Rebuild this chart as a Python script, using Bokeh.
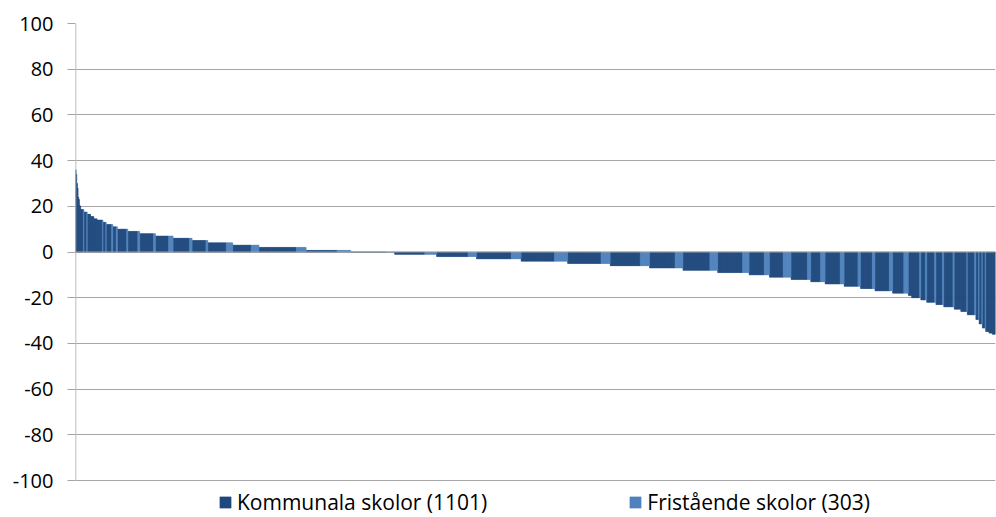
from bokeh.plotting import figure
from bokeh.models import Range1d, FixedTicker, Legend, LegendItem, ColumnDataSource, Span
from bokeh.embed import file_html
from bokeh.resources import INLINE

# Run-length description of the sorted bars:
# value of each plateau, number of municipal (dark) bars, then number of independent (light) bars
level_values = [36, 34, 30, 28, 24, 23, 20.5, 20,
                18.6, 17.5, 16.5, 15.5, 14.5, 14, 13, 12, 11, 10, 9, 8, 7, 6, 5, 4, 3, 2, 0.7, 0,
                -1, -2, -3, -4, -5, -6, -7, -8, -9, -10, -11, -12, -13, -14, -15, -16, -17, -18,
                -19, -20, -21, -22, -23, -24, -25, -26, -27.5, -29.5, -31.5, -33.3, -34.8, -35.5, -36]
n_kommunala = [1, 1, 1, 1, 1, 1, 1, 1,
               4, 4, 5, 5, 5, 8, 4, 8, 5, 14, 15, 21, 20, 25, 21, 28, 28, 57, 47, 54,
               46, 48, 53, 51, 51, 46, 39, 41, 38, 23, 21, 25, 15, 23, 21, 18, 22, 17,
               5, 12, 7, 12, 10, 14, 10, 9, 11, 4, 4, 4, 5, 5, 5]
n_fristaende = [0, 0, 0, 0, 0, 0, 0, 0,
                1, 1, 0, 0, 0, 1, 1, 2, 2, 2, 3, 3, 7, 4, 3, 10, 12, 15, 21, 13,
                18, 13, 15, 20, 14, 14, 12, 12, 10, 8, 12, 5, 7, 6, 4, 4, 5, 7,
                0, 2, 2, 2, 2, 2, 0, 1, 2, 1, 1, 1, 0, 0, 0]

series_names = ["Kommunala skolor (1101)", "Fristående skolor (303)"]
y_ticks = [-100, -80, -60, -40, -20, 0, 20, 40, 60, 80, 100]
y_tick_labels = ["-100", "-80", "-60", "-40", "-20", "0", "20", "40", "60", "80", "100"]

DARK = "#1F497D"
LIGHT = "#4F81BD"
GRID = "#a6a6a6"

kx, kv, fx, fv = [], [], [], []
i = 0
for v, nk, nf in zip(level_values, n_kommunala, n_fristaende):
    for _ in range(nk):
        kx.append(i); kv.append(v); i += 1
    for _ in range(nf):
        fx.append(i); fv.append(v); i += 1
n_total = i

# frame runs to the bottom of the figure so that the legend can sit under the -100 line
H, TOP = 517, 23
y_lo, y_hi = min(y_ticks), max(y_ticks)
px_per_unit = (480 - TOP) / (y_hi - y_lo)
y_start = y_lo - (H - 480) / px_per_unit
x_start = -0.5

p = figure(width=996, height=H, output_backend="svg", toolbar_location=None,
           x_range=Range1d(x_start, n_total - 0.5), y_range=Range1d(y_start, y_hi),
           x_axis_location=None, min_border_left=75, min_border_right=1,
           min_border_top=TOP, min_border_bottom=0)
p.outline_line_color = None
p.background_fill_color = "white"
p.border_fill_color = "white"

src_k = ColumnDataSource(dict(x=kx, top=kv))
src_f = ColumnDataSource(dict(x=fx, top=fv))
rk = p.vbar(x="x", top="top", bottom=0, width=1.0, source=src_k,
            fill_color=DARK, line_color=DARK, line_width=0.5)
rf = p.vbar(x="x", top="top", bottom=0, width=1.0, source=src_f,
            fill_color=LIGHT, line_color=LIGHT, line_width=0.5)

# horizontal category axis line at 0 and vertical value axis line from -100 to 100
p.add_layout(Span(location=0, dimension="width", line_color=GRID, line_width=1, level="overlay"))
p.segment(x0=[x_start], y0=[y_lo], x1=[x_start], y1=[y_hi], line_color=GRID, line_width=1.5)

ya = p.yaxis[0]
ya.ticker = FixedTicker(ticks=y_ticks)
ya.major_label_overrides = {t: l for t, l in zip(y_ticks, y_tick_labels)}
ya.axis_line_color = None
ya.major_tick_line_color = GRID
ya.major_tick_out = 8
ya.major_tick_in = 0
ya.minor_tick_line_color = None
ya.major_label_standoff = 14
ya.major_label_text_font = "Open Sans"
ya.major_label_text_font_size = "20px"
ya.major_label_text_color = "#000000"

p.ygrid.ticker = FixedTicker(ticks=y_ticks)
p.ygrid.grid_line_color = GRID
p.xgrid.grid_line_color = None

legend = Legend(items=[LegendItem(label=series_names[0], renderers=[rk]),
                       LegendItem(label=series_names[1], renderers=[rf])],
                orientation="horizontal", location=(143, 1))
legend.label_text_font = "Open Sans"
legend.label_text_font_size = "21px"
legend.label_text_color = "#000000"
legend.glyph_width = 14
legend.glyph_height = 14
legend.label_standoff = 5
legend.spacing = 141
legend.padding = 0
legend.margin = 0
legend.border_line_color = None
legend.background_fill_alpha = 0
p.add_layout(legend, "center")

open("out.html", "w").write(file_html(p, INLINE))
